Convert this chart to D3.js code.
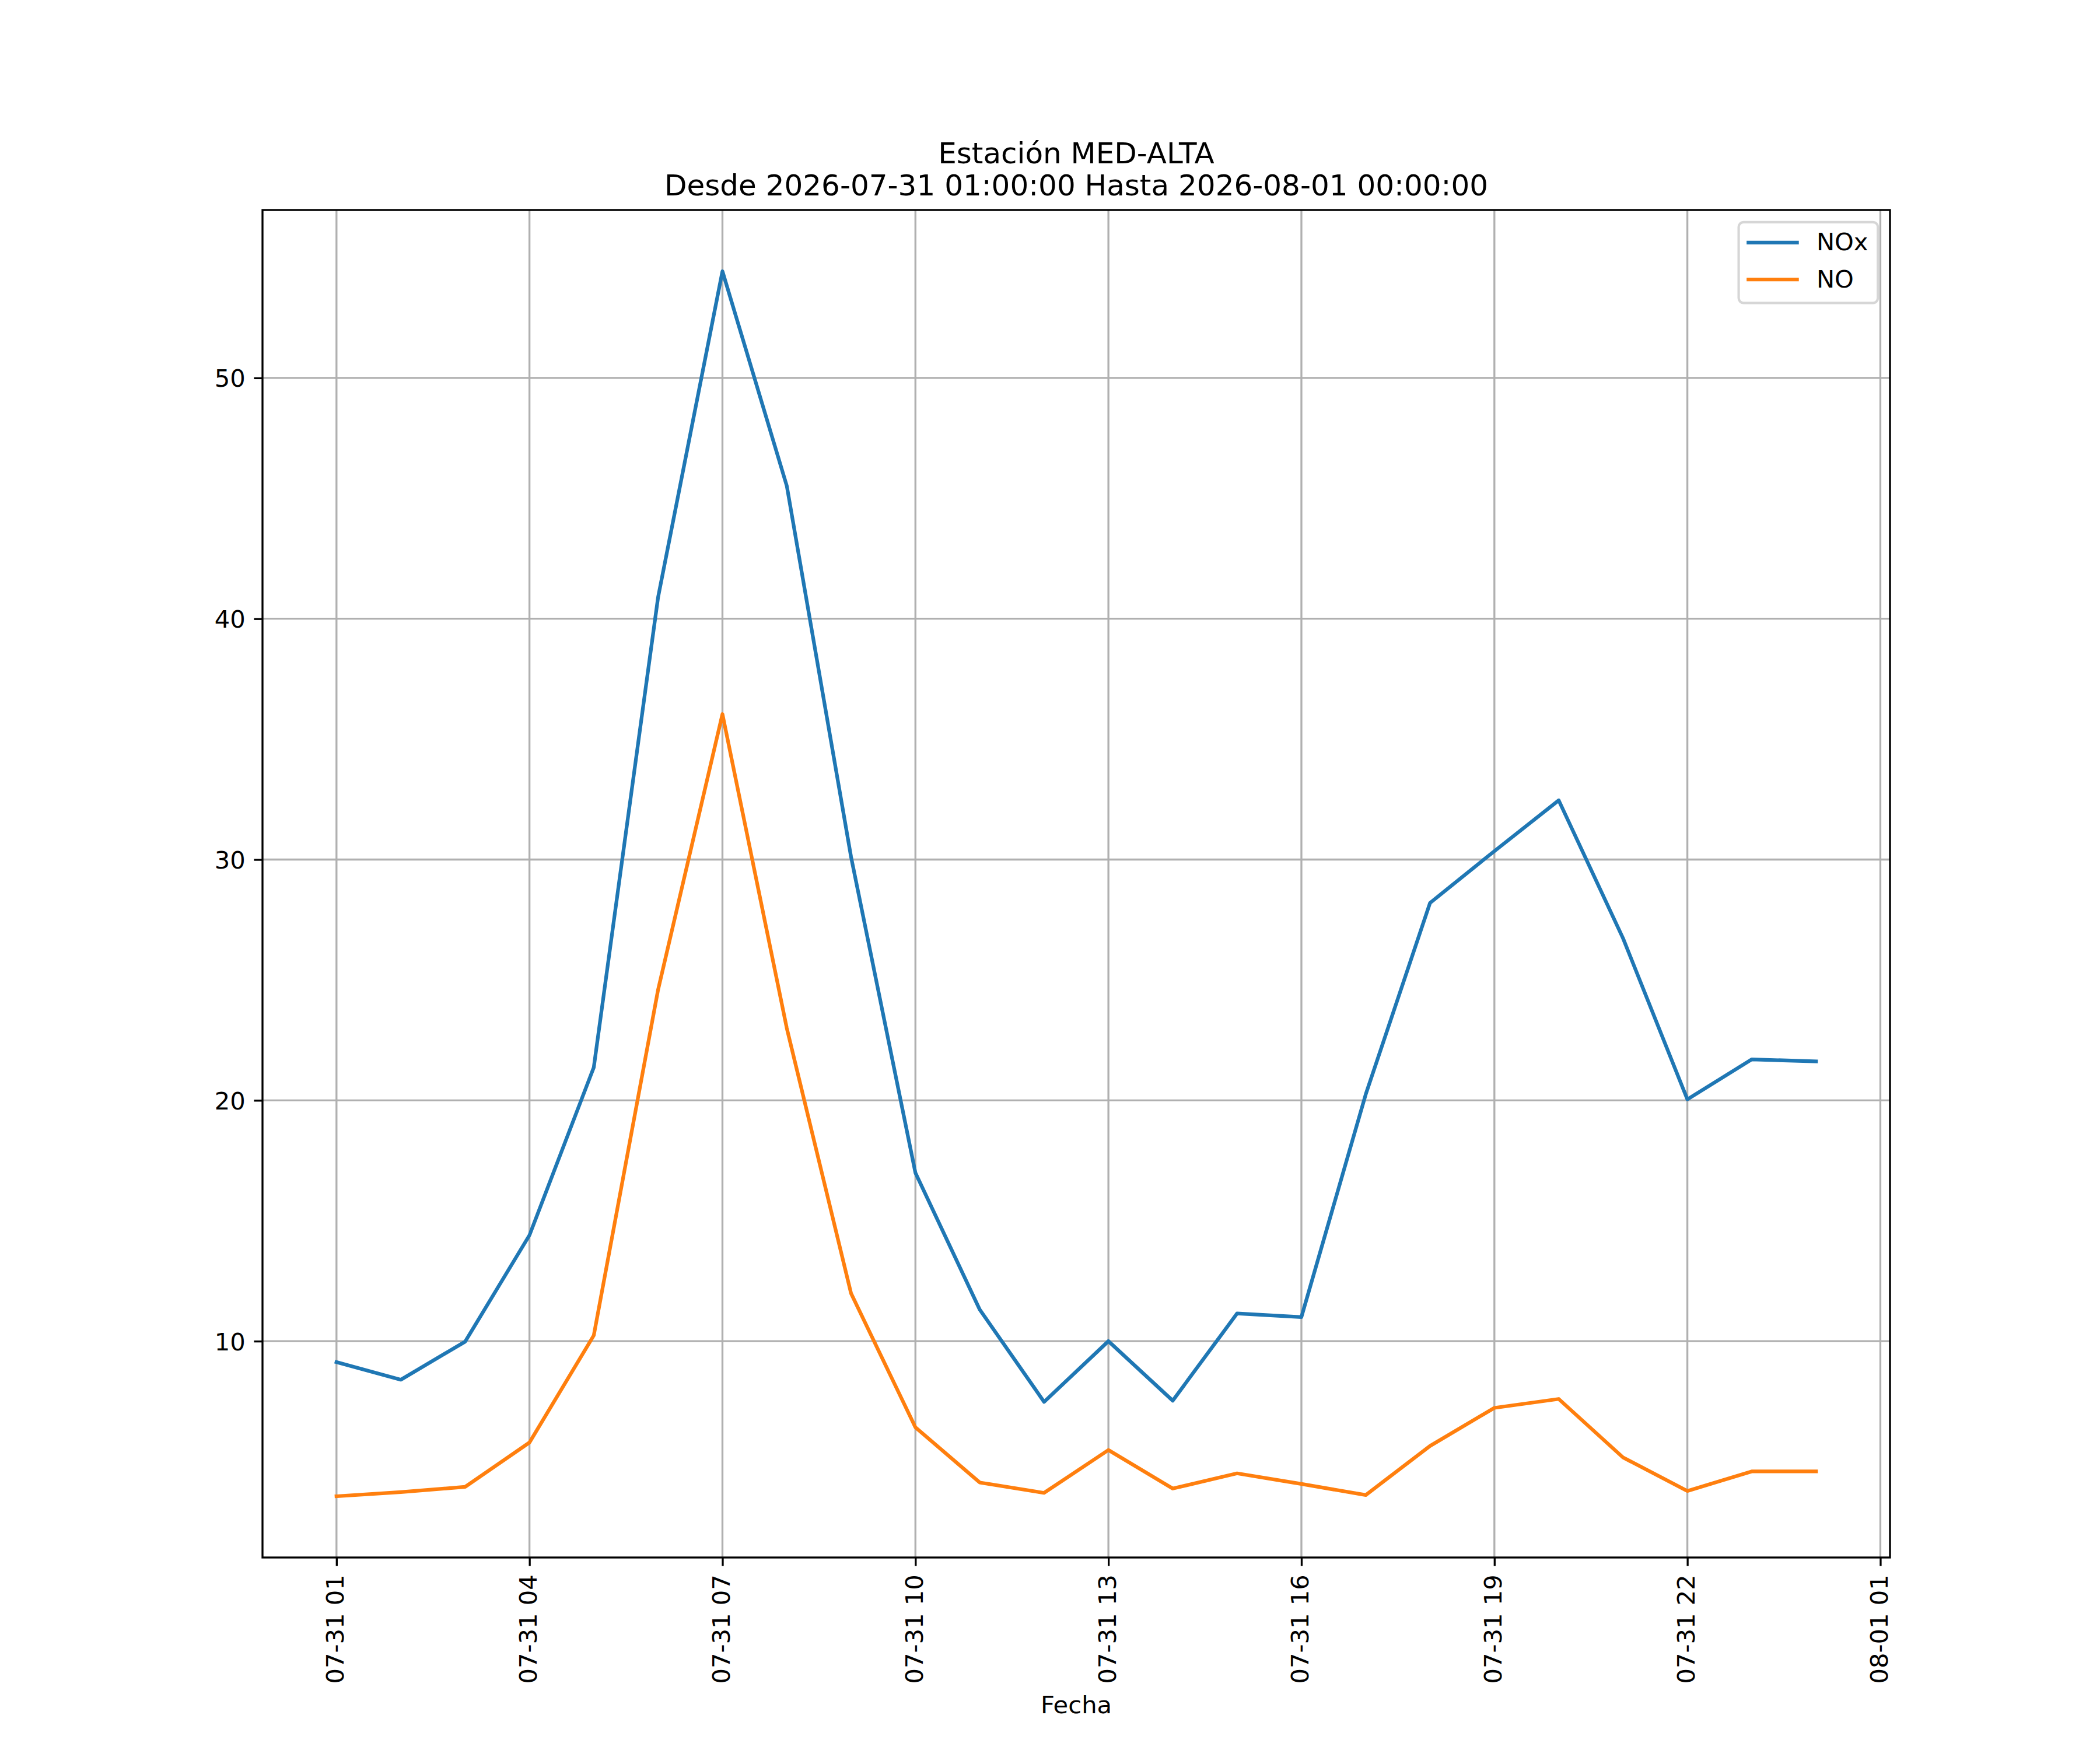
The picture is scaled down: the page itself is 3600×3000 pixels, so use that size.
<!DOCTYPE html>
<html>
<head>
<meta charset="utf-8">
<script src="https://cdn.jsdelivr.net/npm/d3@7"></script>
<style>
  html, body { margin: 0; padding: 0; background: #fff; }
  svg { display: block; font-family: "DejaVu Sans", sans-serif; }
</style>
</head>
<body>
<svg id="chart" width="3600" height="3000"></svg>
<script>
// ---------------- DATA ----------------
const times = [
  "2026-07-31T01:00:00Z", "2026-07-31T02:00:00Z", "2026-07-31T03:00:00Z", "2026-07-31T04:00:00Z",
  "2026-07-31T05:00:00Z", "2026-07-31T06:00:00Z", "2026-07-31T07:00:00Z", "2026-07-31T08:00:00Z",
  "2026-07-31T09:00:00Z", "2026-07-31T10:00:00Z", "2026-07-31T11:00:00Z", "2026-07-31T12:00:00Z",
  "2026-07-31T13:00:00Z", "2026-07-31T14:00:00Z", "2026-07-31T15:00:00Z", "2026-07-31T16:00:00Z",
  "2026-07-31T17:00:00Z", "2026-07-31T18:00:00Z", "2026-07-31T19:00:00Z", "2026-07-31T20:00:00Z",
  "2026-07-31T21:00:00Z", "2026-07-31T22:00:00Z", "2026-07-31T23:00:00Z", "2026-08-01T00:00:00Z"
];
const noxValues = [
  9.13, 8.40, 9.98, 14.4, 21.37, 40.9, 54.43, 45.52,
  30.1, 16.99, 11.31, 7.48, 10.0, 7.53, 11.15, 11.0,
  20.25, 28.2, 30.35, 32.46, 26.73, 20.04, 21.70, 21.62
];
const noValues = [
  3.56, 3.73, 3.95, 5.79, 10.24, 24.6, 36.04, 23.0,
  11.98, 6.42, 4.13, 3.70, 5.48, 3.88, 4.51, 4.07,
  3.61, 5.65, 7.23, 7.60, 5.17, 3.78, 4.59, 4.59
];
const seriesNames = ["NOx", "NO"];
const seriesColors = ["#1f77b4", "#ff7f0e"];
const xTickValues = [
  "2026-07-31T01:00:00Z", "2026-07-31T04:00:00Z", "2026-07-31T07:00:00Z", "2026-07-31T10:00:00Z",
  "2026-07-31T13:00:00Z", "2026-07-31T16:00:00Z", "2026-07-31T19:00:00Z", "2026-07-31T22:00:00Z",
  "2026-08-01T01:00:00Z"
];
const yTickValues = [10, 20, 30, 40, 50];
const titleLines = ["Estación MED-ALTA", "Desde 2026-07-31 01:00:00 Hasta 2026-08-01 00:00:00"];
const xAxisLabel = "Fecha";

// ---------------- LAYOUT ----------------
const W = 3600, H = 3000;
const L = 450, R = 3240, T = 360, B = 2670;
const FS = 41.67;          // 10pt @300dpi
const TITLE_FS = 50;       // 12pt
const TICK = 14.58, PAD = 14.58;
const THIN = 3.33;

const svg = d3.select("#chart");
svg.append("rect").attr("width", W).attr("height", H).attr("fill", "#fff");

const dates = times.map(t => new Date(t));
const [x0, x1] = d3.extent(dates);
const xSpan = x1 - x0;
const x = d3.scaleUtc()
  .domain([new Date(+x0 - 0.05 * xSpan), new Date(+x1 + 0.05 * xSpan)])
  .range([L, R]);

const allVals = noxValues.concat(noValues);
const [y0, y1] = d3.extent(allVals);
const ySpan = y1 - y0;
const y = d3.scaleLinear()
  .domain([y0 - 0.05 * ySpan, y1 + 0.05 * ySpan])
  .range([B, T]);

const xTicks = xTickValues.map(t => new Date(t));
const fmt = d3.utcFormat("%m-%d %H");

// clip
svg.append("defs").append("clipPath").attr("id", "clip")
  .append("rect").attr("x", L).attr("y", T).attr("width", R - L).attr("height", B - T);

// grid
const grid = svg.append("g");
grid.selectAll("line.gx").data(xTicks).enter().append("line")
  .attr("x1", d => x(d)).attr("x2", d => x(d)).attr("y1", T).attr("y2", B)
  .attr("stroke", "#b0b0b0").attr("stroke-width", THIN);
grid.selectAll("line.gy").data(yTickValues).enter().append("line")
  .attr("x1", L).attr("x2", R).attr("y1", d => y(d)).attr("y2", d => y(d))
  .attr("stroke", "#b0b0b0").attr("stroke-width", THIN);

// lines
const series = [noxValues, noValues];
const lineGen = d3.line().x((d, i) => x(dates[i])).y(d => y(d));
const plot = svg.append("g").attr("clip-path", "url(#clip)");
series.forEach((vals, k) => {
  plot.append("path").datum(vals)
    .attr("d", lineGen)
    .attr("fill", "none")
    .attr("stroke", seriesColors[k])
    .attr("stroke-width", 6.25)
    .attr("stroke-linejoin", "round")
    .attr("stroke-linecap", "square");
});

// spines
svg.append("rect").attr("x", L).attr("y", T).attr("width", R - L).attr("height", B - T)
  .attr("fill", "none").attr("stroke", "#000").attr("stroke-width", THIN);

// x axis
const gx = svg.append("g").attr("transform", `translate(0,${B})`)
  .call(d3.axisBottom(x).tickValues(xTicks).tickFormat(fmt).tickSize(TICK).tickPadding(0));
gx.select(".domain").remove();
gx.selectAll(".tick line").attr("stroke", "#000").attr("stroke-width", THIN);
gx.selectAll(".tick text")
  .attr("font-family", "DejaVu Sans").attr("font-size", FS).attr("fill", "#000")
  .attr("transform", `translate(0,${TICK + PAD}) rotate(-90)`)
  .attr("text-anchor", "end")
  .attr("x", 0).attr("y", 12).attr("dy", null);

// y axis
const gy = svg.append("g").attr("transform", `translate(${L},0)`)
  .call(d3.axisLeft(y).tickValues(yTickValues).tickFormat(d3.format("d")).tickSize(TICK).tickPadding(PAD));
gy.select(".domain").remove();
gy.selectAll(".tick line").attr("stroke", "#000").attr("stroke-width", THIN);
gy.selectAll(".tick text")
  .attr("font-family", "DejaVu Sans").attr("font-size", FS).attr("fill", "#000")
  .attr("dy", "0.36em");

// title
const cx = (L + R) / 2;
svg.append("text").attr("x", cx).attr("y", 280).attr("text-anchor", "middle")
  .attr("font-size", TITLE_FS).attr("fill", "#000").text(titleLines[0]);
svg.append("text").attr("x", cx).attr("y", 335).attr("text-anchor", "middle")
  .attr("font-size", TITLE_FS).attr("fill", "#000").text(titleLines[1]);

// x label
svg.append("text").attr("x", cx).attr("y", 2937).attr("text-anchor", "middle")
  .attr("font-size", FS).attr("fill", "#000").text(xAxisLabel);

// legend
const lgW = 238.6, lgH = 138.6;
const lgX = R - 20.8 - lgW, lgY = T + 20.8;
const lg = svg.append("g");
lg.append("rect").attr("x", lgX).attr("y", lgY).attr("width", lgW).attr("height", lgH)
  .attr("rx", 8.3).attr("ry", 8.3)
  .attr("fill", "#fff").attr("fill-opacity", 0.8)
  .attr("stroke", "#cccccc").attr("stroke-opacity", 0.8).attr("stroke-width", 4.17);
seriesNames.forEach((name, k) => {
  const ly = lgY + 35 + k * 63.3;
  lg.append("line")
    .attr("x1", lgX + 16.7).attr("x2", lgX + 16.7 + 83.3)
    .attr("y1", ly).attr("y2", ly)
    .attr("stroke", seriesColors[k]).attr("stroke-width", 6.25).attr("stroke-linecap", "square");
  lg.append("text").attr("x", lgX + 16.7 + 83.3 + 33.3).attr("y", ly + 13.6)
    .attr("font-size", FS).attr("fill", "#000").text(name);
});
</script>
</body>
</html>
